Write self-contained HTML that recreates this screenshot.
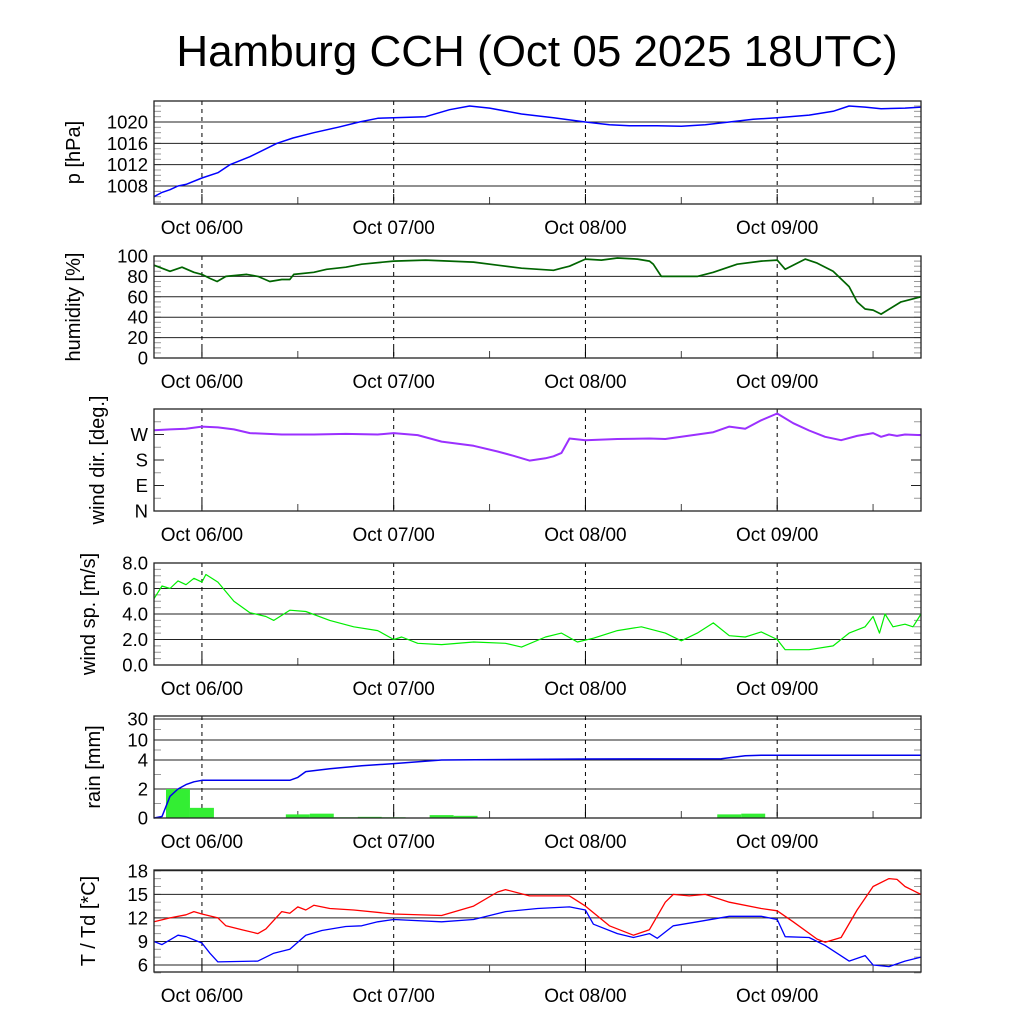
<!DOCTYPE html>
<html><head><meta charset="utf-8"><style>
body{margin:0;background:#fff}
svg{display:block;font-family:"Liberation Sans",sans-serif}
</style></head><body>
<svg id="c" width="1024" height="1024" viewBox="0 0 1024 1024">
<text x="537" y="66" font-size="44" text-anchor="middle">Hamburg CCH (Oct 05 2025 18UTC)</text>
</svg>
<script>
const dayLabels=["Oct 06/00","Oct 07/00","Oct 08/00","Oct 09/00"];
const dayHours=[6,30,54,78];
const pH=[0,1,2,3,4,6,8,9.5,12,15.4,17.4,20,23,25.7,28,30,34,37,39.5,42,46,50,54,57,59.5,63,66,69,72,75,78,82,85,87,89,91,94,96];
const pV=[1006,1006.8,1007.3,1008,1008.3,1009.5,1010.5,1012,1013.5,1016,1017,1018,1019,1020,1020.7,1020.8,1021,1022.3,1023,1022.6,1021.5,1020.8,1020,1019.5,1019.3,1019.3,1019.2,1019.5,1020,1020.5,1020.8,1021.3,1022,1023,1022.8,1022.5,1022.6,1022.8];
const hH=[0,2,3.5,5,6,7,7.9,9,11.6,13,14.5,16,17,17.5,20,21.6,24,26,30,34,37,40,43,46,50,51,52,54,56,58,60.5,62,62.5,63.5,65,68,70,73,76,78,79,81.5,83,85,87,88,89,90,91,93.5,96];
const hV=[91,85,89,84,82,78,75,80,82,80,75,77,77,82,84,87,89,92,95,96,95,94,91,88,86,88,90,97,96,98,97,95,92,80,80,80,84,92,95,96,87,97,93,85,70,55,48,47,43,55,60];
const dH=[0,2,4,6,8,10,12,16,20,24,28,30,33,36,40,43,45,47,49,50,51,52,54,58,62,64,66,68,70,72,74,76,78,80,82,84,86,88,89,90,91,92,93,94,96];
const dV=[285,288,290,298,295,288,275,270,270,272,270,275,268,245,230,210,195,178,186,193,205,256,250,254,256,254,262,270,278,298,290,320,344,310,284,262,250,265,270,275,262,270,265,270,268];
const sH=[0,1,2,3,4,5,6,6.5,8,10,12,14,15,17,19,22,25,28,30,31,33,36,40,44,46,49,51,53,55,58,61,64,66,68,70,72,74,76,78,79,82,85,87,89,90,90.8,91.5,92.5,94,95,96];
const sV=[5.2,6.2,6.0,6.6,6.3,6.8,6.5,7.1,6.5,5.0,4.1,3.8,3.5,4.3,4.2,3.5,3.0,2.7,2.0,2.2,1.7,1.6,1.8,1.7,1.4,2.2,2.5,1.8,2.1,2.7,3.0,2.5,1.9,2.5,3.3,2.3,2.2,2.6,2.0,1.2,1.2,1.5,2.5,3.0,3.8,2.5,4.0,3.0,3.2,3.0,4.0];
const rH=[0,1,2,3,4,5,6,17,18,19,22,26,30,36,54,71,72.5,74,76,96];
const rV=[0,0.1,1.5,2.0,2.3,2.5,2.6,2.6,2.8,3.2,3.4,3.6,3.75,4.0,4.3,4.4,4.8,5.3,5.4,5.4];
const barH=[3,6,18,21,24,27,30,36,39,42,45,48,51,54,66,69,72,75];
const barV=[2.0,0.7,0.25,0.3,0.05,0.08,0.05,0.2,0.15,0.03,0.03,0.03,0.03,0.03,0.03,0.03,0.25,0.3];
const tH=[0,2,4,5,6,8,9,11,13,14,16,17,18,19,20,22,25,30,36,40,43,44,47,52,54,57,60,62,64,65,67,69,72,76,78,80,83,84,86,88,90,92,93,94,96];
const tV=[11.5,12,12.4,12.8,12.5,12,11,10.5,10,10.6,12.8,12.6,13.4,13,13.6,13.2,13,12.5,12.3,13.5,15.3,15.6,14.8,14.8,13.5,11,9.8,10.5,14,15,14.8,15,14,13.2,12.9,11.5,9.3,8.9,9.5,13,16,17,16.9,16,15];
const tdH=[0,1,3,4,6,7,8,13,15,17,19,21,24,26,28,30,36,40,44,48,52,54,55,58,60,62,63,65,68,72,76,78,79,82,84,87,89,90,92,94,96];
const tdV=[9,8.6,9.8,9.6,8.8,7.5,6.4,6.5,7.5,8,9.8,10.4,10.9,11,11.5,11.8,11.5,11.8,12.8,13.2,13.4,13,11.2,10,9.5,10,9.4,11,11.5,12.2,12.2,11.8,9.6,9.5,8.5,6.5,7.2,6,5.8,6.5,7];

const NS="http://www.w3.org/2000/svg",svg=document.getElementById('c');
const X0=154,X1=921;
const xs=h=>X0+(X1-X0)*h/96;
function mk(tag,attrs,parent){const e=document.createElementNS(NS,tag);for(const k in attrs)e.setAttribute(k,attrs[k]);(parent||svg).appendChild(e);return e;}
function panel(o){
  const g=mk('g',{});
  
  
  const {top,bot,ys}=o;
  (o.minor||[]).forEach(v=>{const y=ys(v);
    mk('line',{x1:X0,x2:X0+7,y1:y,y2:y,stroke:'#999'},g);mk('line',{x1:X1-7,x2:X1,y1:y,y2:y,stroke:'#999'},g);});
  o.ticks.forEach((v,i)=>{const y=ys(v);
    if(o.grid) mk('line',{x1:X0,x2:X1,y1:y,y2:y,stroke:'#222','stroke-width':1},g);
    else {mk('line',{x1:X0,x2:X0+10,y1:y,y2:y,stroke:'#222'},g);mk('line',{x1:X1-10,x2:X1,y1:y,y2:y,stroke:'#222'},g);}
    const t=mk('text',{x:148,y:y+6.5,'font-size':18.5,'text-anchor':'end'},g);t.textContent=o.labels[i];
    
    
  });
  dayHours.forEach((h,i)=>{const x=xs(h);
    mk('line',{x1:x,x2:x,y1:top,y2:bot,stroke:'#000','stroke-dasharray':'4,4'},g);
    mk('line',{x1:x,x2:x,y1:bot-10,y2:bot,stroke:'#000'},g);
    mk('line',{x1:xs(h+12),x2:xs(h+12),y1:bot-7,y2:bot,stroke:'#444'},g);
    const t=mk('text',{x:x,y:bot+30,'font-size':19,'text-anchor':'middle'},g);t.textContent=dayLabels[i];
    
    
  });
  const cy=(top+bot)/2;
  const t=mk('text',{x:0,y:0,'font-size':20,'text-anchor':'middle',transform:`translate(${o.tx||80},${cy}) rotate(-90)`},g);
  t.textContent=o.title;
  
  
  if(o.draw)o.draw(g);
  mk('rect',{x:X0,y:top,width:X1-X0,height:bot-top,fill:'none',stroke:'#222','stroke-width':1.3},g);
}
function line(g,H,V,ys,col,w,name){
  const p=mk('polyline',{points:H.map((h,i)=>xs(h).toFixed(1)+','+ys(V[i]).toFixed(1)).join(' '),fill:'none',stroke:col,'stroke-width':w||1.5,'stroke-linejoin':'round'},g);
  
  
}
function range(a,b,s){const r=[];for(let v=a;v<=b+1e-9;v+=s)r.push(v);return r;}

let ysP=v=>186-(v-1008)*5.333;
panel({name:'pressure',top:101,bot:204,ys:ysP,ticks:[1008,1012,1016,1020],labels:['1008','1012','1016','1020'],grid:true,minor:range(1005,1023,1),title:'p [hPa]',tx:80,
  draw:g=>line(g,pH,pV,ysP,'#0000ff',1.5,'pressure-line')});
let ysH=v=>358-v*1.02;
panel({name:'humidity',top:256,bot:358,ys:ysH,ticks:[0,20,40,60,80,100],labels:['0','20','40','60','80','100'],grid:true,minor:range(0,100,5),title:'humidity [%]',tx:80,
  draw:g=>line(g,hH,hV,ysH,'#006400',1.7,'humidity-line')});
let ysD=v=>511-v*25.5/90;
panel({name:'wind-direction',top:409,bot:511,ys:ysD,ticks:[0,90,180,270],labels:['N','E','S','W'],grid:false,minor:range(45,360,45),title:'wind dir. [deg.]',tx:104,
  draw:g=>line(g,dH,dV,ysD,'#9b30ff',2,'wind-direction-line')});
let ysS=v=>665-v*12.75;
panel({name:'wind-speed',top:563,bot:665,ys:ysS,ticks:[0,2,4,6,8],labels:['0.0','2.0','4.0','6.0','8.0'],grid:true,minor:range(0,8,0.5),title:'wind sp. [m/s]',tx:95,
  draw:g=>line(g,sH,sV,ysS,'#00ee00',1.2,'wind-speed-line')});
const rk=[0,2,4,10,30],ry=[818,789,760,740,719];
let ysR=v=>{for(let i=1;i<rk.length;i++)if(v<=rk[i])return ry[i-1]+(v-rk[i-1])/(rk[i]-rk[i-1])*(ry[i]-ry[i-1]);return 716;};
panel({name:'rain',top:716,bot:818,ys:ysR,ticks:[0,2,4,10,30],labels:['0','2','4','10','30'],grid:true,minor:[1,3,7,20],title:'rain [mm]',tx:100,
  draw:g=>{barH.forEach((h,i)=>{const y=ysR(barV[i]);
      const r=mk('rect',{x:xs(h-1.5),y:y,width:xs(h+1.5)-xs(h-1.5),height:818-y,fill:'#33ee33'},g);
      
      });
    line(g,rH,rV,ysR,'#0000ee',1.5,'rain-cumulative-line');}});
let ysT=v=>965-(v-6)*7.85;
panel({name:'temperature',top:870,bot:972,ys:ysT,ticks:[6,9,12,15,18],labels:['6','9','12','15','18'],grid:true,minor:range(5,18,1),title:'T / Td [*C]',tx:95,
  draw:g=>{line(g,tH,tV,ysT,'#ff0000',1.3,'temperature-line');line(g,tdH,tdV,ysT,'#0000ff',1.3,'dewpoint-line');}});
</script>
</body></html>
